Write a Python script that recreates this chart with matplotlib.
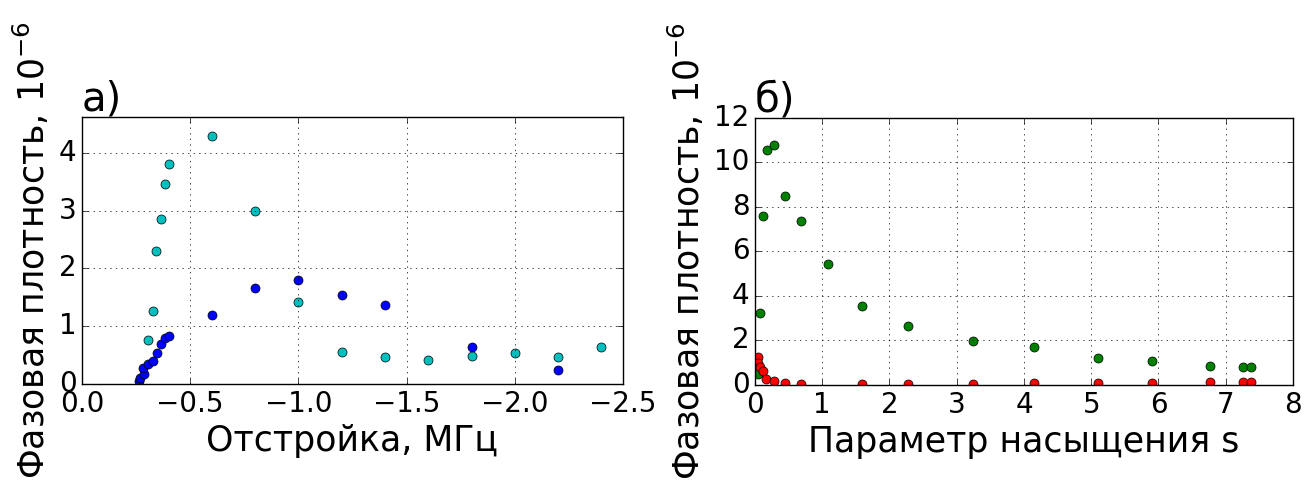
import matplotlib
matplotlib.use("Agg")
import matplotlib.pyplot as plt

# panel a: detuning (MHz) vs phase density
det_blue = [-0.265, -0.268, -0.287, -0.283, -0.305, -0.327, -0.345, -0.364, -0.382, -0.404,
            -0.6, -0.8, -1.0, -1.2, -1.4, -1.8, -2.2]
dens_blue = [0.06, 0.10, 0.17, 0.27, 0.35, 0.40, 0.54, 0.69, 0.80, 0.83,
             1.20, 1.66, 1.80, 1.54, 1.36, 0.64, 0.24]
det_cyan = [-0.305, -0.327, -0.344, -0.364, -0.382, -0.404, -0.6, -0.8, -1.0, -1.2,
            -1.4, -1.6, -1.8, -2.0, -2.2, -2.4]
dens_cyan = [0.76, 1.27, 2.30, 2.86, 3.46, 3.81, 4.29, 2.99, 1.41, 0.56,
             0.47, 0.42, 0.48, 0.54, 0.47, 0.64]

# panel b: saturation parameter vs phase density
s_green = [0.05, 0.08, 0.12, 0.18, 0.29, 0.44, 0.69, 1.08, 1.59, 2.28, 3.24, 4.15,
           5.10, 5.91, 6.76, 7.25, 7.37]
dens_green = [0.51, 3.22, 7.60, 10.54, 10.80, 8.49, 7.39, 5.43, 3.56, 2.67, 1.97, 1.71,
              1.20, 1.09, 0.87, 0.82, 0.82]
s_red = [0.05, 0.04, 0.07, 0.12, 0.17, 0.29, 0.44, 0.69, 1.59, 2.28, 3.24, 4.15,
         5.10, 5.91, 6.76, 7.25, 7.37]
dens_red = [1.24, 0.97, 0.82, 0.63, 0.28, 0.19, 0.10, 0.06, 0.06, 0.06, 0.06, 0.07,
            0.08, 0.08, 0.14, 0.14, 0.14]

plt.style.use("classic")
plt.rcParams["mathtext.fontset"] = "dejavusans"
plt.rcParams["font.family"] = ["DejaVu Sans"]

ylabel = "Фазовая плотность, $10^{-6}$"

fig = plt.figure(figsize=(13.16, 4.97), dpi=100, facecolor="white")
ax1 = fig.add_axes([0.0623, 0.2274, 0.4111, 0.5372])
ax2 = fig.add_axes([0.5737, 0.2254, 0.4088, 0.5372])

ax1.plot(det_blue, dens_blue, "bo", markersize=6.5)
ax1.plot(det_cyan, dens_cyan, "co", markersize=6.5)
ax1.set_xlim(0, -2.5)
ax1.set_ylim(0, 4.62)
ax1.set_xlabel("Отстройка, МГц", fontsize=25)
ax1.set_ylabel(ylabel, fontsize=25)
ax1.set_title("а)", loc="left", fontsize=29)

ax2.plot(s_green, dens_green, "go", markersize=6.5)
ax2.plot(s_red, dens_red, "ro", markersize=6.5)
ax2.set_xlim(0, 8)
ax2.set_ylim(0, 12)
ax2.set_xlabel("Параметр насыщения s", fontsize=25)
ax2.set_ylabel(ylabel, fontsize=25)
ax2.set_title("б)", loc="left", fontsize=29)

for ax in (ax1, ax2):
    ax.grid(True)
    ax.tick_params(labelsize=20)

fig.savefig("out.png", dpi=100, facecolor="white")
